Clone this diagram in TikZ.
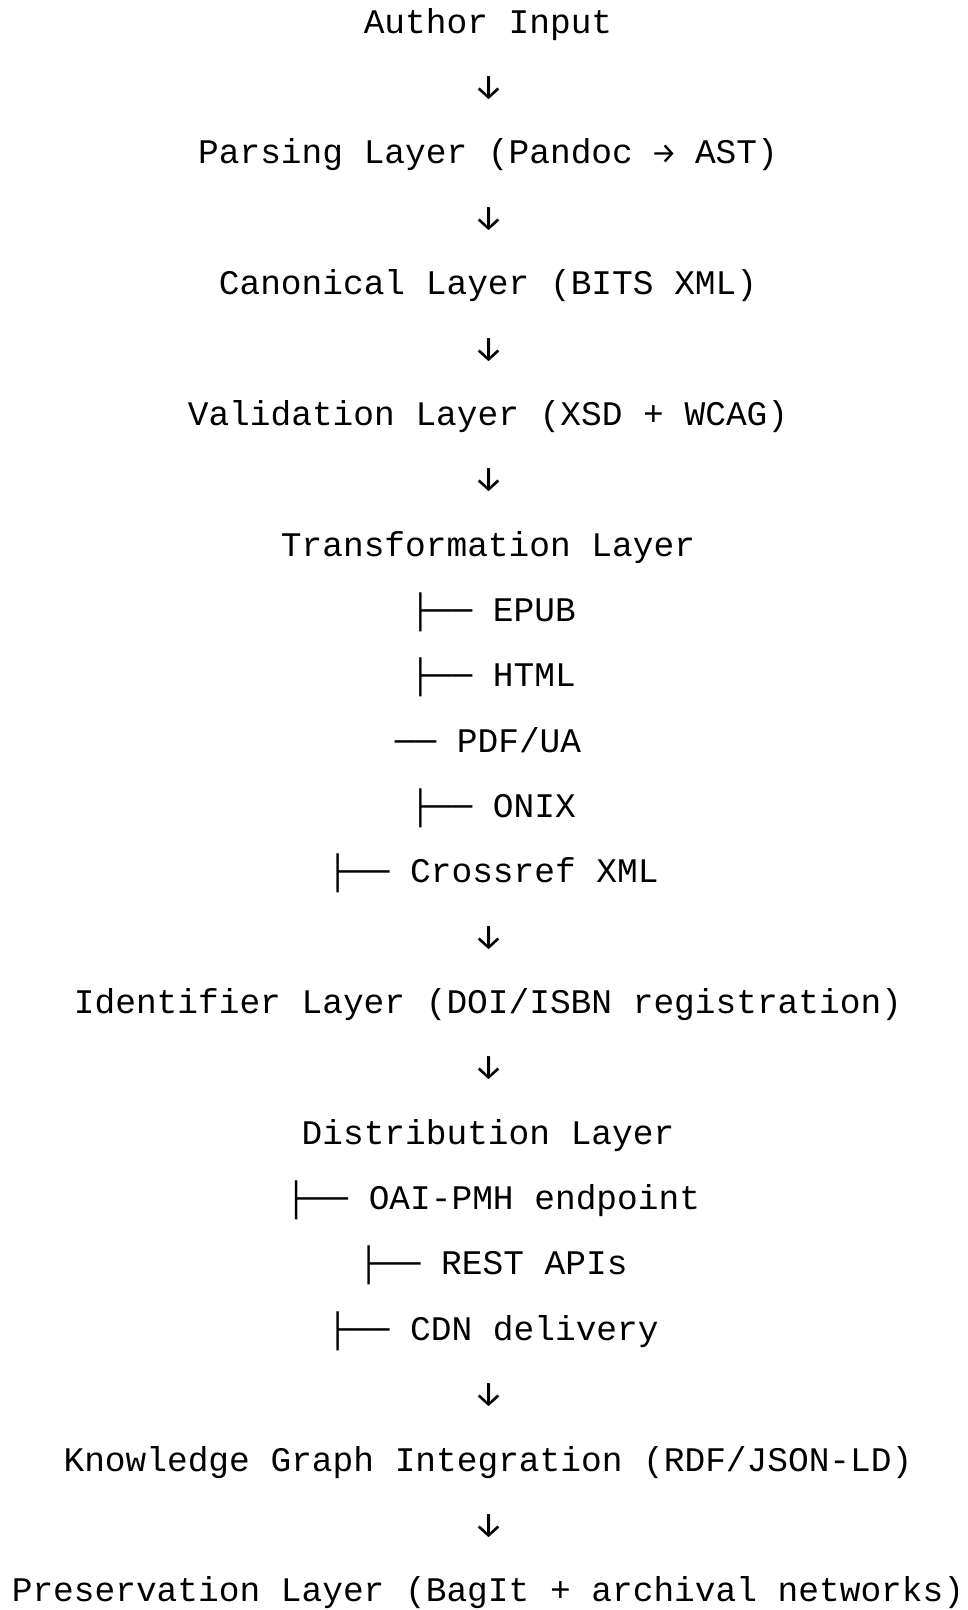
\documentclass[tikz,border=0pt]{standalone}
\usepackage{fontspec}
\newfontfamily\diagmono{Liberation Mono}
\newfontfamily\arrowfont{Fira Sans}
\newcommand{\dn}{\makebox[0.6em]{\arrowfont ↓}}
\newcommand{\rt}{\makebox[0.6em]{\arrowfont\fontsize{14.5}{16}\selectfont →}}
\begin{document}
\begin{tikzpicture}[x=0.5pt,y=-0.5pt,
	row/.style={anchor=base,inner sep=0pt,font=\diagmono\fontsize{17.25}{20}\selectfont},
	branch/.style={row,xshift=2.5pt}]
	\useasboundingbox (0,0) rectangle (968,1610);
	% authoring and canonical layers
	\node[row] (author) at (488,33.3) {Author Input};
	\node[row] (down1) at (489,98.65) {\dn};
	\node[row] (parsing) at (488,164.0) {Parsing Layer (Pandoc \rt{} AST)};
	\node[row] (down2) at (489,229.35) {\dn};
	\node[row] (canonical) at (488,294.7) {Canonical Layer (BITS XML)};
	\node[row] (down3) at (489,360.05) {\dn};
	\node[row] (validation) at (488,425.4) {Validation Layer (XSD + WCAG)};
	\node[row] (down4) at (489,490.75) {\dn};
	% transformation outputs
	\node[row] (transform) at (488,556.1) {Transformation Layer};
	\node[branch] (epub) at (488,621.45) {├── EPUB};
	\node[branch] (html) at (488,686.8) {├── HTML};
	\node[row] (pdfua) at (488,752.15) {── PDF/UA};
	\node[branch] (onix) at (488,817.5) {├── ONIX};
	\node[branch] (crossref) at (488,882.85) {├── Crossref XML};
	\node[row] (down5) at (489,948.2) {\dn};
	\node[row] (identifier) at (488,1013.55) {Identifier Layer (DOI/ISBN registration)};
	\node[row] (down6) at (489,1078.9) {\dn};
	% distribution channels
	\node[row] (distribution) at (488,1144.25) {Distribution Layer};
	\node[branch] (oaipmh) at (488,1209.6) {├── OAI-PMH endpoint};
	\node[branch] (rest) at (488,1274.95) {├── REST APIs};
	\node[branch] (cdn) at (488,1340.3) {├── CDN delivery};
	\node[row] (down7) at (489,1405.65) {\dn};
	\node[row] (graph) at (488,1471.0) {Knowledge Graph Integration (RDF/JSON-LD)};
	\node[row] (down8) at (489,1536.35) {\dn};
	\node[row] (preservation) at (488,1601.7) {Preservation Layer (BagIt + archival networks)};
\end{tikzpicture}
\end{document}
